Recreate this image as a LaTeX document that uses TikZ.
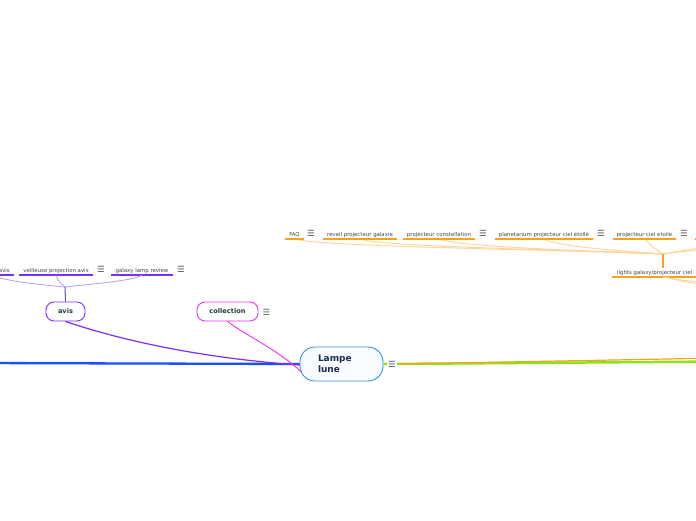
\documentclass[tikz,border=0pt]{standalone}
\usepackage{fontspec}
\setmainfont{DejaVu Sans}
\definecolor{lampeblue}{HTML}{3B8FD6}
\definecolor{lampefill}{HTML}{F9FCFF}
\definecolor{navytext}{HTML}{1B2A50}
\definecolor{nodetext}{HTML}{1D3C3C}
\definecolor{avispurple}{HTML}{7B2FFF}
\definecolor{avislight}{HTML}{B596FF}
\definecolor{magentaline}{HTML}{F030F0}
\definecolor{blueline}{HTML}{1750FF}
\definecolor{greenline}{HTML}{8AE41A}
\definecolor{orangeline}{HTML}{F7A21B}
\definecolor{orangelight}{HTML}{FFD59E}
\definecolor{leaftext}{HTML}{444444}
\definecolor{menugray}{HTML}{505050}
\definecolor{menublue}{HTML}{3A5080}
\tikzset{
  leaf/.style={font=\fontsize{5.4}{6}\selectfont, text=leaftext, inner xsep=4pt, inner ysep=1.6pt, text height=4pt, text depth=1.1pt},
  menuicon/.style={font=\fontsize{8.5}{8.5}\selectfont, text=menugray, inner sep=0.5pt},
  bubble/.style={rounded corners=8pt, minimum height=19pt, font=\bfseries\fontsize{6.6}{8}\selectfont, text=nodetext, fill=white, line width=0.9pt, inner sep=0pt},
  pconn/.style={avislight, line width=0.8pt},
  oconn/.style={orangelight, line width=1pt},
  pul/.style={avispurple, line width=1.5pt},
  oul/.style={orangeline, line width=1.5pt}
}
\begin{document}
\begin{tikzpicture}[x=1pt,y=-1pt]
\useasboundingbox (0,0) rectangle (696,520);
\clip (0,0) rectangle (696,520);

% central node
\node[draw=lampeblue, line width=0.9pt, fill=lampefill, rounded corners=15pt,
      minimum width=83pt, minimum height=34pt, text width=47pt, align=left,
      inner xsep=0pt, font=\bfseries\fontsize{9}{11}\selectfont, text=navytext] (lampe) at (341.5,364) {Lampe\\lune};

% first-level nodes
\node[bubble, draw=avispurple, minimum width=39pt] (avis) at (65.5,311.5) {avis};
\node[bubble, draw=magentaline, minimum width=61pt] (coll) at (227.5,311.5) {collection};
\node[menuicon, text=nodetext!80] (collmenu) at (266.5,312) {☰};

% main branches
\coordinate (blueend) at (-20,363);
\coordinate (greenend) at (720,361.5);
\coordinate (orangeend) at (720,358);
\draw[blueline, line width=2.3pt] (lampe.west) -- (blueend);
\draw[greenline, line width=2.5pt] (lampe.east) -- (greenend);
\draw[orangeline, line width=1.2pt] ([xshift=16pt]lampe.east) -- (orangeend);
\draw[avispurple, line width=1.2pt] (avis.south) .. controls (120,340) and (200,358) .. ([yshift=-1pt]lampe.west);
\draw[magentaline, line width=0.9pt] (coll.south) .. controls (245,335) and (275,348) .. ([xshift=2pt,yshift=-8pt]lampe.west);
\node[menuicon, text=menublue, fill=white, inner sep=1pt] (lampemenu) at (392,364) {☰};

% avis children
\node[leaf, anchor=south east] (a0) at (14,275) {avis};
\node[leaf, anchor=south] (a1) at (56,275) {veilleuse projection avis};
\node[leaf, anchor=south] (a2) at (142,275) {galaxy lamp review};
\node[menuicon] (a1menu) at (101,269) {☰};
\node[menuicon] (a2menu) at (181,269) {☰};
\coordinate (a0far) at (-30,275);
\draw[pul] (a0far) -- (a0.south east);
\draw[pul] (a1.south west) -- (a1.south east);
\draw[pul] (a2.south west) -- (a2.south east);
\coordinate (ja) at (65,287);
\draw[pconn] ([xshift=-14pt]a0.south) .. controls +(20,7) and +(-30,-3) .. (ja);
\draw[pconn] (a1.south) .. controls +(2,7) and +(-3,-3) .. (ja);
\draw[pconn] (a2.south) .. controls +(-8,6) and +(25,-3) .. (ja);
\draw[avispurple, line width=1pt] (ja) -- (avis.north);

% orange group
\node[leaf, anchor=south] (o1) at (294.5,239) {FAQ};
\node[leaf, anchor=south] (o2) at (360,239) {reveil projecteur galaxie};
\node[leaf, anchor=south] (o3) at (439,239) {projecteur constellation};
\node[leaf, anchor=south] (o4) at (544,239) {planetarium projecteur ciel étoilé};
\node[leaf, anchor=south] (o5) at (644.5,239) {projecteur ciel etoile};
\node[menuicon] (o1menu) at (311,233) {☰};
\node[menuicon] (o3menu) at (483,233) {☰};
\node[menuicon] (o4menu) at (601,233) {☰};
\node[menuicon] (o5menu) at (684,233) {☰};
\coordinate (o6) at (695,239);
\coordinate (o6end) at (730,239);
\coordinate (o7) at (760,239);
\node[leaf, anchor=south west, inner xsep=5pt] (lights) at (612,277) {lights galaxy/projecteur ciel};
\coordinate (lightsend) at (720,277);
\coordinate (jo) at (663,254);
\draw[oconn] (o1.south) .. controls +(25,8) and +(-90,-4) .. (jo);
\draw[oconn] (o2.south) .. controls +(20,8) and +(-80,-4) .. (jo);
\draw[oconn] (o3.south) .. controls +(20,8) and +(-70,-3) .. (jo);
\draw[oconn] (o4.south) .. controls +(15,8) and +(-40,-3) .. (jo);
\draw[oconn] (o5.south) .. controls +(8,8) and +(-5,-3) .. (jo);
\draw[oconn] (o6end) .. controls +(-15,8) and +(15,-3) .. (jo);
\draw[oconn] (o7) .. controls +(-20,9) and +(25,-4) .. (jo);
\foreach \n in {o1,o2,o3,o4,o5} \draw[oul] (\n.south west) -- (\n.south east);
\draw[oul] (o6) -- (o6end);
\draw[oul] (lights.south west) -- (lightsend);
\draw[orangeline, line width=1.6pt] (jo) -- (jo |- lights.north);
\coordinate (lc1) at (730,284);
\coordinate (lc2) at (760,292);
\draw[oconn] ([xshift=51pt]lights.south west) .. controls +(10,3) and +(-20,-1) .. (lc1);
\draw[oconn] ([xshift=53pt]lights.south west) .. controls +(12,4) and +(-30,-2) .. (lc2);
\end{tikzpicture}
\end{document}
